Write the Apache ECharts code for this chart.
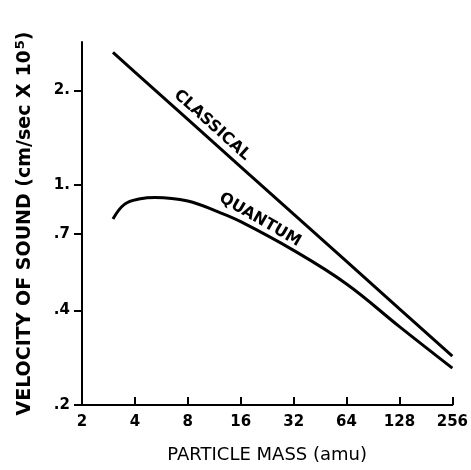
<!DOCTYPE html>
<html>
<head>
<meta charset="utf-8">
<script src="https://cdn.jsdelivr.net/npm/echarts@6/dist/echarts.min.js"></script>
<style>
  html, body { margin: 0; padding: 0; background: #fff; }
  #chart { width: 471px; height: 470px; }
</style>
</head>
<body>
<div id="chart"></div>
<script>
// particle mass (amu) vs velocity of sound (cm/sec x 10^5)
const classicalMass = [3, 4, 8, 16, 32, 64, 128, 256];
const classicalVel = [2.64, 2.286, 1.617, 1.143, 0.808, 0.572, 0.404, 0.286];

const quantumMass = [3, 3.5, 4.3, 5.2, 8, 12, 16, 32, 64, 128, 256];
const quantumVel = [0.78, 0.87, 0.905, 0.914, 0.89, 0.82, 0.765, 0.62, 0.485, 0.355, 0.262];

const yTicks = [0.2, 0.4, 0.7, 1, 2];
const yTickLabels = ['.2', '.4', '.7', '1.', '2.'];
const xTicks = [2, 4, 8, 16, 32, 64, 128, 256];

const font = 'DejaVu Sans, Liberation Sans, sans-serif';
const chart = echarts.init(document.getElementById('chart'));

function pairs(xs, ys) {
    return xs.map((x, i) => [x, ys[i]]);
}

chart.setOption({
    animation: false,
    grid: { left: 82, right: 18, top: 42, bottom: 65 },
    xAxis: {
        type: 'log',
        logBase: 2,
        min: 2,
        max: 256,
        interval: 1,
        name: 'PARTICLE MASS (amu)',
        nameLocation: 'middle',
        nameGap: 41,
        nameTextStyle: { fontFamily: font, fontSize: 18, color: '#000', fontWeight: 'normal' },
        axisLine: { lineStyle: { color: '#000', width: 2 } },
        axisTick: { inside: true, length: 8, customValues: xTicks, lineStyle: { color: '#000', width: 2 } },
        axisLabel: {
            margin: 10, color: '#000', fontFamily: font, fontSize: 15, fontWeight: 'bold',
            customValues: xTicks,
            formatter: v => String(Math.round(v))
        },
        splitLine: { show: false },
        minorTick: { show: false }
    },
    yAxis: {
        type: 'log',
        logBase: 10,
        min: 0.2,
        max: 2.85,
        name: 'VELOCITY OF SOUND (cm/sec X 10{sup|5})',
        nameLocation: 'middle',
        nameGap: 45,
        nameTextStyle: {
            fontFamily: font, fontSize: 19, fontWeight: 'bold', color: '#000',
            rich: { sup: { fontFamily: font, fontSize: 13, fontWeight: 'bold', color: '#000', padding: [0, 0, 10, 1] } }
        },
        axisLine: { lineStyle: { color: '#000', width: 2 } },
        axisTick: { length: 8, customValues: yTicks, lineStyle: { color: '#000', width: 2 } },
        axisLabel: {
            margin: 12, color: '#000', fontFamily: font, fontSize: 15, fontWeight: 'bold',
            customValues: yTicks,
            formatter: v => {
                const i = yTicks.findIndex(t => Math.abs(t - v) < 1e-6);
                return i >= 0 ? yTickLabels[i] : '';
            }
        },
        splitLine: { show: false },
        minorTick: { show: false }
    },
    series: [
        {
            name: 'CLASSICAL',
            type: 'line',
            data: pairs(classicalMass, classicalVel),
            showSymbol: false,
            lineStyle: { color: '#000', width: 3 },
            markPoint: {
                symbol: 'circle',
                symbolSize: 0,
                data: [{ coord: [11, 1.55], value: 'CLASSICAL' }],
                label: {
                    show: true, position: 'inside', rotate: -42,
                    formatter: 'CLASSICAL',
                    color: '#000', fontFamily: font, fontSize: 16, fontWeight: 'bold'
                }
            }
        },
        {
            name: 'QUANTUM',
            type: 'line',
            smooth: 0.4,
            data: pairs(quantumMass, quantumVel),
            showSymbol: false,
            lineStyle: { color: '#000', width: 3 },
            markPoint: {
                symbol: 'circle',
                symbolSize: 0,
                data: [{ coord: [20.6, 0.775], value: 'QUANTUM' }],
                label: {
                    show: true, position: 'inside', rotate: -30,
                    formatter: 'QUANTUM',
                    color: '#000', fontFamily: font, fontSize: 16, fontWeight: 'bold'
                }
            }
        }
    ]
});
</script>
</body>
</html>
